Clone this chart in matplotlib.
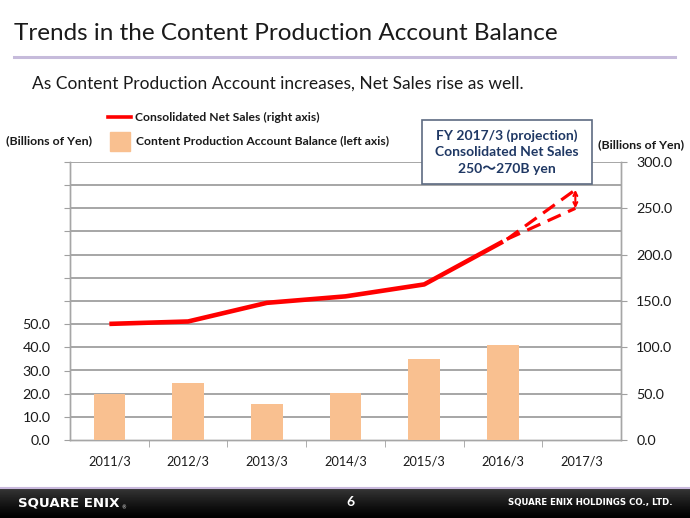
import numpy as np
import matplotlib
matplotlib.use('Agg')
import matplotlib.pyplot as plt
from matplotlib.lines import Line2D
from matplotlib.patches import Rectangle

# values
years = ['2011/3', '2012/3', '2013/3', '2014/3', '2015/3', '2016/3', '2017/3']
content_balance = [20.0, 24.8, 15.6, 20.3, 34.9, 41.1]      # left axis
net_sales = [125.3, 127.9, 148.0, 155.0, 167.9, 214.1]      # right axis
proj_low = 250.0
proj_high = 270.0

left_ticks = list(range(0, 130, 10))
left_labels = ['%.1f' % v if v <= 50 else '' for v in left_ticks]
right_ticks = list(range(0, 350, 50))
grid_levels = list(range(25, 325, 25))   # one line per 10 on the left axis

W, H = 690, 518
plt.rcParams['font.family'] = ['Lato', 'DejaVu Sans']


def px(x, y):
    # pixel position on the slide -> figure fraction
    return x / W, 1 - y / H


fig = plt.figure(figsize=(6.9, 5.18), dpi=100)

# header
fig.text(*px(14, 33), 'Trends in the Content Production Account Balance',
         fontsize=17.5, va='center', ha='left', color='#1a1a1a')
fig.add_artist(Line2D([14 / W, 675 / W], [1 - 57 / H, 1 - 57 / H],
                      color='#c6bbdb', lw=2.2))
fig.text(*px(32, 84), 'As Content Production Account increases, Net Sales rise as well.',
         fontsize=12.5, va='center', ha='left', color='#1a1a1a')

# chart: ax2 (line + grid) is drawn first, ax (bars) on top of it
ax = fig.add_axes([70 / W, 1 - 440 / H, (621 - 70) / W, (440 - 162) / H])
ax2 = ax.twinx()
ax.set_zorder(2)
ax2.set_zorder(1)
ax.patch.set_visible(False)
ax2.patch.set_visible(True)
ax2.patch.set_facecolor('white')

x = np.arange(len(years))
ax.set_ylim(0, 120)
ax.set_xlim(-0.5, len(years) - 0.5)
ax.bar(x[:len(content_balance)], content_balance, width=0.4, color='#f9c090', zorder=3)
ax.set_yticks(left_ticks)
ax.set_yticklabels(left_labels)
ax.set_xticks(x)
ax.set_xticklabels(years)
ax.set_xticks(np.arange(0.5, len(years) - 0.5, 1), minor=True)
ax.tick_params(axis='x', which='major', length=0, pad=11, labelsize=9.2, labelcolor='#1a1a1a')
ax.tick_params(axis='x', which='minor', length=5, color='#a0a0a0', direction='out')
ax.tick_params(axis='y', length=4, color='#a0a0a0', labelsize=10.3, labelcolor='#1a1a1a', pad=10)

ax2.set_ylim(0, 300)
ax2.hlines(grid_levels, -0.5, len(years) - 0.5, colors='#a6a6a6', lw=1.4, zorder=1)
ax2.plot(x[:len(net_sales)], net_sales, color='#ff0000', lw=3.3,
         solid_capstyle='butt', solid_joinstyle='round', zorder=4)
end = len(years) - 1 - 0.08
for target in (proj_high, proj_low):
    ax2.plot([x[len(net_sales) - 1] + 0.05, end], [net_sales[-1] + 2.5, target],
             color='#ff0000', lw=2.3, linestyle=(0, (4.5, 2.5)), zorder=4)
ax2.annotate('', xy=(end, proj_high), xytext=(end, proj_low),
             arrowprops=dict(arrowstyle='<->', color='#ff0000', lw=1.5,
                             shrinkA=0, shrinkB=0, mutation_scale=7))
ax2.set_yticks(right_ticks)
ax2.set_yticklabels(['%.1f' % v for v in right_ticks])
ax2.tick_params(axis='y', length=4, color='#a0a0a0', labelsize=10.3, labelcolor='#1a1a1a', pad=7)

for a in (ax, ax2):
    a.spines['top'].set_visible(False)
    for s in ('left', 'right', 'bottom'):
        a.spines[s].set_color('#a6a6a6')
        a.spines[s].set_linewidth(1.0)

# legend drawn by hand like on the slide
fig.add_artist(Line2D([108 / W, 131 / W], [1 - 117 / H] * 2, color='#ff0000', lw=2.6))
fig.text(*px(135, 117), 'Consolidated Net Sales (right axis)', fontsize=8.7,
         fontweight='bold', va='center', ha='left', color='#1a1a1a')
fig.add_artist(Rectangle(px(110, 151), 20 / W, 19 / H, color='#f9c090',
                         transform=fig.transFigure))
fig.text(*px(136, 141), 'Content Production Account Balance (left axis)', fontsize=8.7,
         fontweight='bold', va='center', ha='left', color='#1a1a1a')
fig.text(*px(6, 141), '(Billions of Yen)', fontsize=8.9, fontweight='bold',
         va='center', ha='left', color='#1a1a1a')
fig.text(*px(598, 145), '(Billions of Yen)', fontsize=8.9, fontweight='bold',
         va='center', ha='left', color='#1a1a1a')

# projection box
fig.add_artist(Rectangle(px(422, 184), 170 / W, 64 / H, facecolor='white',
                         edgecolor='#5d6b82', lw=1.2, transform=fig.transFigure, zorder=5))
fig.text(*px(507, 152), 'FY 2017/3 (projection)\nConsolidated Net Sales\n250\u301c270B yen',
         fontsize=10, fontweight='bold', va='center', ha='center', color='#1f3864',
         linespacing=1.45, zorder=6, family=['Lato', 'Noto Sans CJK JP', 'DejaVu Sans'])

# footer bar
fax = fig.add_axes([0, 0, 1, 30 / H])
grad = np.linspace(0.28, 0.0, 40) ** 1.2
fax.imshow(np.tile(grad[:, None], (1, 10)), cmap='gray', vmin=0, vmax=1,
           aspect='auto', extent=(0, 1, 0, 1))
fax.set_axis_off()
fig.add_artist(Line2D([0, 1], [1 - 488 / H] * 2, color='#c9b9dd', lw=1.5))
fig.text(*px(18, 503), 'SQUARE ENIX', fontsize=9.6, fontweight='bold', color='white',
         va='center', ha='left', family='DejaVu Sans')
fig.text(*px(121, 508), '\u00ae', fontsize=3.5, color='white', va='center', ha='left',
         family='DejaVu Sans')
fig.text(*px(350, 502), '6', fontsize=10, fontweight='bold', color='white',
         va='center', ha='center')
fig.text(*px(673, 503), 'SQUARE ENIX HOLDINGS CO., LTD.', fontsize=6.2, fontweight='bold',
         color='white', va='center', ha='right',
         family=['Liberation Sans Narrow', 'DejaVu Sans'])

fig.savefig('out.png', dpi=100)
